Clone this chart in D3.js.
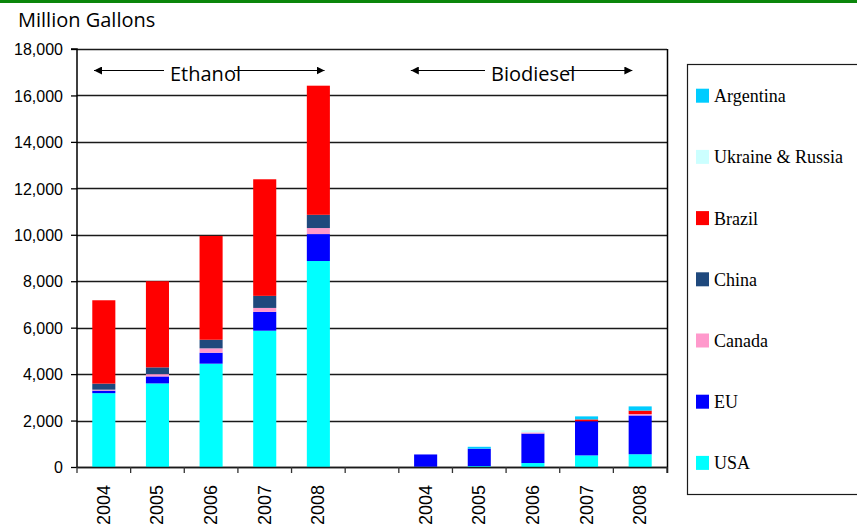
<!DOCTYPE html>
<html>
<head>
<meta charset="utf-8">
<script src="https://cdn.jsdelivr.net/npm/d3@7"></script>
<style>
  body { margin: 0; background: #fff; }
  svg { display: block; }
</style>
</head>
<body>
<svg id="chart" width="857" height="530"></svg>
<script>
// ---- data ----
const categories = ["E2004","E2005","E2006","E2007","E2008","gap","B2004","B2005","B2006","B2007","B2008"];
const categoryLabels = ["2004","2005","2006","2007","2008","","2004","2005","2006","2007","2008"];
const seriesNames = ["USA","EU","Canada","China","Brazil","Ukraine & Russia","Argentina"];
const usa       = [3180, 3600, 4450, 5870, 8870, 0,  10,  40,  170,  500,  550];
const eu        = [ 110,  300,  470,  810, 1160, 0, 530, 750, 1270, 1470, 1670];
const canada    = [  40,  100,  190,  170,  260, 0,   0,   0,   50,    0,   60];
const china     = [ 260,  290,  370,  520,  570, 0,   0,   0,    0,    0,    0];
const brazil    = [3590, 3710, 4470, 5020, 5560, 0,   0,   0,    0,   80,  150];
const ukraine   = [   0,    0,    0,    0,    0, 0,   0,   0,   90,    0,    0];
const argentina = [   0,    0,    0,    0,    0, 0,   0,  80,    0,  130,  180];
const yTicks = [0, 2000, 4000, 6000, 8000, 10000, 12000, 14000, 16000, 18000];
const groupLabels = ["Ethanol", "Biodiesel"];
const colors = ["#00FFFF", "#0000FF", "#FF99CC", "#1F497D", "#FF0000", "#CCFFFF", "#00CCFF"];

const seriesValues = [usa, eu, canada, china, brazil, ukraine, argentina];
const rows = categories.map((c, i) => {
  const r = { cat: c };
  seriesNames.forEach((s, k) => r[s] = seriesValues[k][i]);
  return r;
});

const svg = d3.select("#chart");
const pLeft = 77, pRight = 667, pTop = 49, pBottom = 467;

// top green rule
svg.append("rect").attr("x", 0).attr("y", 0).attr("width", 857).attr("height", 3).attr("fill", "#0b860b");

const x = d3.scaleBand().domain(categories).range([pLeft, pRight]).padding(0);
const y = d3.scaleLinear().domain([0, 18000]).range([pBottom, pTop]);

// gridlines
svg.append("g").selectAll("line").data(yTicks).join("line")
  .attr("x1", pLeft).attr("x2", pRight)
  .attr("y1", d => Math.round(y(d)) + 0.5).attr("y2", d => Math.round(y(d)) + 0.5)
  .attr("stroke", "#1a1a1a").attr("stroke-width", 1.4);

// bars
const stack = d3.stack().keys(seriesNames);
const stacked = stack(rows);
const bw = x.bandwidth() * 0.43;
svg.append("g").selectAll("g").data(stacked).join("g")
  .attr("fill", (d, i) => colors[i])
  .selectAll("rect").data(d => d).join("rect")
  .attr("x", d => x(d.data.cat) + (x.bandwidth() - bw) / 2)
  .attr("width", bw)
  .attr("y", d => y(d[1]))
  .attr("height", d => Math.max(0, y(d[0]) - y(d[1])));

// y axis
const yAxis = d3.axisLeft(y).tickValues(yTicks).tickSize(6).tickPadding(8)
  .tickFormat(d3.format(","));
const gy = svg.append("g").attr("transform", `translate(${pLeft},0)`).call(yAxis);
gy.select(".domain").attr("stroke", "#000").attr("stroke-width", 1.5).attr("d", `M-6,${pTop}H0V${pBottom}`);
gy.selectAll(".tick line").attr("stroke", "#000").attr("stroke-width", 1.3);
gy.selectAll(".tick text").attr("font-family", "Liberation Sans, Arial, sans-serif")
  .attr("font-size", 16).attr("fill", "#000").attr("dy", "0.36em");

// right border
svg.append("line").attr("x1", pRight + 0.5).attr("x2", pRight + 0.5).attr("y1", pTop).attr("y2", pBottom + 6)
  .attr("stroke", "#000").attr("stroke-width", 1.5);

// x axis
const boundaries = categories.map(c => x(c)).concat([pRight]);
svg.append("line").attr("x1", pLeft).attr("x2", pRight).attr("y1", pBottom + 0.5).attr("y2", pBottom + 0.5)
  .attr("stroke", "#1a1a1a").attr("stroke-width", 1.5);
svg.append("g").selectAll("line").data(boundaries).join("line")
  .attr("x1", d => d).attr("x2", d => d).attr("y1", pBottom).attr("y2", pBottom + 6)
  .attr("stroke", "#333").attr("stroke-width", 1.3);
svg.append("g").selectAll("text").data(categories).join("text")
  .attr("transform", d => `translate(${x(d) + x.bandwidth() / 2 + 6},${pBottom + 18}) rotate(-90)`)
  .attr("text-anchor", "end")
  .attr("font-family", "Liberation Sans, Arial, sans-serif").attr("font-size", 18).attr("fill", "#000")
  .text((d, i) => categoryLabels[i]);

// title
svg.append("text").attr("x", 18).attr("y", 27)
  .attr("font-family", "Open Sans, sans-serif").attr("font-size", 20).attr("fill", "#000")
  .text("Million Gallons");

// group arrows
const arrowDefs = svg.append("defs");
arrowDefs.append("marker").attr("id", "ah").attr("viewBox", "0 0 10 10").attr("refX", 10).attr("refY", 5)
  .attr("markerWidth", 8).attr("markerHeight", 8).attr("markerUnits", "userSpaceOnUse").attr("orient", "auto-start-reverse")
  .append("path").attr("d", "M0,0L10,5L0,10Z").attr("fill", "#000");

const groups = [
  { label: groupLabels[0], from: "E2004", to: "E2008", dl: 17, dr: 33, textX: 170 },
  { label: groupLabels[1], from: "B2004", to: "B2008", dl: 12, dr: 19, textX: 491 }
];
groups.forEach(g => {
  const x0 = x(g.from) + g.dl, x1 = x(g.to) + g.dr;
  const ly = 70.5;
  svg.append("line").attr("x1", x0).attr("x2", x1).attr("y1", ly).attr("y2", ly)
    .attr("stroke", "#000").attr("stroke-width", 1)
    .attr("marker-start", "url(#ah)").attr("marker-end", "url(#ah)");
  const t = svg.append("text").attr("x", g.textX).attr("y", 81)
    .attr("font-family", "Open Sans, sans-serif").attr("font-size", 20).attr("fill", "#000")
    .text(g.label);
  const bb = t.node().getBBox();
  svg.append("rect").attr("x", bb.x - 6).attr("y", ly - 2).attr("width", bb.width - 1).attr("height", 4).attr("fill", "#fff");
  t.raise();
});

// legend
const lg = svg.append("g");
lg.append("rect").attr("x", 687.5).attr("y", 64.5).attr("width", 180).attr("height", 430)
  .attr("fill", "#fff").attr("stroke", "#1a1a1a").attr("stroke-width", 1.2);
const legendOrder = seriesNames.map((s, i) => ({ s, c: colors[i] })).reverse();
const li = lg.selectAll("g.item").data(legendOrder).join("g").attr("class", "item")
  .attr("transform", (d, i) => `translate(696,${95.7 + i * 61.2})`);
li.append("rect").attr("x", 0).attr("y", -7).attr("width", 13).attr("height", 14).attr("fill", d => d.c);
li.append("text").attr("x", 18).attr("y", 6.5)
  .attr("font-family", "Liberation Serif, Times New Roman, serif").attr("font-size", 18).attr("fill", "#000")
  .text(d => d.s);
</script>
</body>
</html>
